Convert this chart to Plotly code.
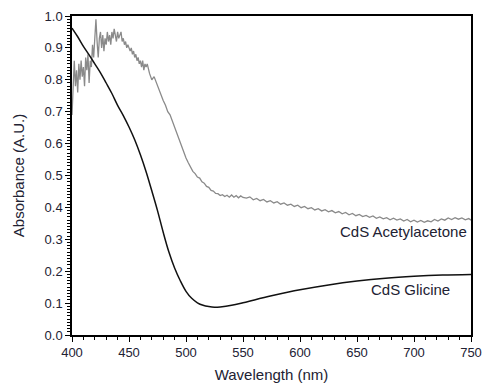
import plotly.graph_objects as go

# CdS Glicine (smooth black curve)
wl_gly = [400, 405, 410, 415, 420, 425, 430, 435, 440, 445, 450, 455, 460, 465, 470, 475,
          480, 485, 490, 495, 500, 505, 510, 515, 520, 525, 530, 540, 550, 560, 575, 590,
          600, 625, 650, 675, 700, 725, 750]
abs_gly = [0.962, 0.935, 0.905, 0.878, 0.850, 0.822, 0.790, 0.757, 0.720, 0.688, 0.652, 0.612,
           0.565, 0.512, 0.452, 0.390, 0.322, 0.260, 0.210, 0.170, 0.137, 0.115, 0.101, 0.093,
           0.089, 0.087, 0.088, 0.093, 0.101, 0.110, 0.123, 0.135, 0.142, 0.157, 0.169, 0.178,
           0.184, 0.188, 0.190]

# CdS Acetylacetone (noisy gray curve)
wl_acac = list(range(400, 471)) + list(range(472, 551, 2)) + list(range(553, 749, 3)) + [750]
abs_acac = [
    0.69, 0.80, 0.86, 0.78, 0.83, 0.76, 0.85, 0.80, 0.86, 0.81,
    0.84, 0.78, 0.87, 0.83, 0.88, 0.79, 0.86, 0.84, 0.91, 0.87,
    0.93, 0.99, 0.92, 0.87, 0.93, 0.95, 0.90, 0.94, 0.89, 0.93,
    0.91, 0.95, 0.92, 0.94, 0.91, 0.95, 0.93, 0.96, 0.94, 0.92,
    0.95, 0.93, 0.94, 0.95, 0.92, 0.93, 0.91, 0.92, 0.90, 0.91,
    0.90, 0.89, 0.90, 0.88, 0.89, 0.87, 0.88, 0.86, 0.87, 0.85,
    0.86, 0.84, 0.86, 0.83, 0.85, 0.84, 0.85, 0.83, 0.82, 0.81,
    0.80,
    0.81, 0.79, 0.77, 0.75, 0.735, 0.72, 0.70, 0.69, 0.67, 0.65,
    0.63, 0.61, 0.59, 0.57, 0.555, 0.54, 0.527, 0.513, 0.506, 0.495,
    0.492, 0.480, 0.476, 0.466, 0.463, 0.453, 0.451, 0.444, 0.443, 0.437,
    0.440, 0.434, 0.438, 0.432, 0.439, 0.432, 0.437, 0.430, 0.436, 0.431,
    0.429, 0.433, 0.424, 0.428, 0.421, 0.425, 0.417, 0.421, 0.414, 0.418,
    0.410, 0.414, 0.407, 0.410, 0.403, 0.407, 0.399, 0.403, 0.396, 0.399,
    0.392, 0.396, 0.389, 0.393, 0.386, 0.390, 0.383, 0.387, 0.380, 0.384,
    0.377, 0.381, 0.374, 0.378, 0.371, 0.375, 0.369, 0.373, 0.366, 0.370,
    0.364, 0.368, 0.361, 0.366, 0.360, 0.364, 0.357, 0.362, 0.355, 0.360,
    0.354, 0.359, 0.353, 0.358, 0.355, 0.362, 0.357, 0.364, 0.360, 0.367,
    0.362, 0.368, 0.363, 0.367, 0.361, 0.365, 0.360,
]

x_ticks = [400, 450, 500, 550, 600, 650, 700, 750]
y_ticks = [0.0, 0.1, 0.2, 0.3, 0.4, 0.5, 0.6, 0.7, 0.8, 0.9, 1.0]

font_family = "Liberation Sans, Arial, sans-serif"
txt = "#222233"

fig = go.Figure()
fig.add_trace(go.Scatter(x=wl_acac, y=abs_acac, mode="lines",
                         line=dict(color="#8a8a8a", width=1.3), showlegend=False))
fig.add_trace(go.Scatter(x=wl_gly, y=abs_gly, mode="lines", line_shape="spline",
                         line=dict(color="#111111", width=1.5), showlegend=False))

fig.add_annotation(x=748, y=0.326, text="CdS Acetylacetone", showarrow=False,
                   xanchor="right", yanchor="middle",
                   font=dict(family=font_family, size=15, color=txt))
fig.add_annotation(x=733, y=0.144, text="CdS Glicine", showarrow=False,
                   xanchor="right", yanchor="middle",
                   font=dict(family=font_family, size=15, color=txt))

fig.update_layout(
    width=483, height=383,
    margin=dict(l=72, r=12, t=16, b=48),
    paper_bgcolor="white", plot_bgcolor="white",
    font=dict(family=font_family, size=13, color=txt),
    xaxis=dict(range=[400, 750], tickvals=x_ticks, ticks="outside", ticklen=5,
               tickwidth=1, tickcolor="black", showline=True, linecolor="black",
               linewidth=1.5, mirror=True, showgrid=False, zeroline=False,
               minor=dict(dtick=10, ticks="outside", ticklen=3, tickcolor="black",
                          showgrid=False),
               title=dict(text="Wavelength (nm)", font=dict(size=15), standoff=10),
               automargin=False),
    yaxis=dict(range=[0, 1.0], tickvals=y_ticks, tickformat=".1f", ticks="outside",
               ticklen=5, tickwidth=1, tickcolor="black", showline=True,
               linecolor="black", linewidth=1.5, mirror=True, showgrid=False,
               zeroline=False,
               minor=dict(dtick=0.01, ticks="outside", ticklen=3, tickcolor="black",
                          showgrid=False),
               title=dict(text="Absorbance (A.U.)", font=dict(size=15), standoff=16),
               automargin=False),
)

fig.write_html("out.html", config={"displayModeBar": False},
               post_script="document.body.style.margin='0';document.body.style.padding='0';"
                           "document.body.style.overflow='hidden';")
